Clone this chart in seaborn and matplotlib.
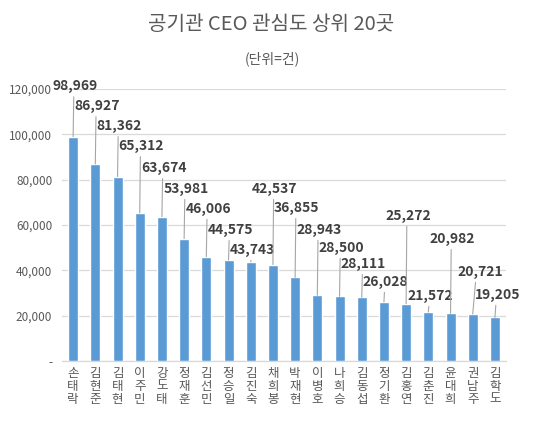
import numpy as np
import pandas as pd
import matplotlib
matplotlib.use("Agg")
import matplotlib.pyplot as plt
import seaborn as sns

# ==============================
# DATA
# ==============================
names = ["손태락", "김현준", "김태현", "이주민", "강도태", "정재훈", "김선민", "정승일", "김진숙", "채희봉",
         "박재현", "이병호", "나희승", "김동섭", "정기환", "김홍연", "김춘진", "윤대희", "권남주", "김학도"]
counts = [98969, 86927, 81362, 65312, 63674, 53981, 46006, 44575, 43743, 42537,
          36855, 28943, 28500, 28111, 26028, 25272, 21572, 20982, 20721, 19205]
title = "공기관 CEO 관심도 상위 20곳"
subtitle = "(단위=건)"
yticks = [0, 20000, 40000, 60000, 80000, 100000, 120000]

# label layout (height of each value label, sideways shift in bar slots)
label_y = [121100, 112300, 103500, 94700, 85000, 75800, 67000, 57700, 48900, 75800,
           67400, 57700, 49800, 42700, 34800, 63900, 28600, 53700, 39200, 29100]
label_dx = [0.08] * 20
label_dx[18] = 0.36
label_dx[19] = 0.13

# ==============================
# PLOT
# ==============================
sns.set_style("white")
plt.rcParams['font.family'] = ['Noto Sans CJK KR', 'DejaVu Sans']

df = pd.DataFrame({"name": names, "count": counts})

fig = plt.figure(figsize=(5.45, 4.32), dpi=100)
ax = fig.add_axes([0.1138, 0.1644, 0.8147, 0.6296])

sns.barplot(data=df, x="name", y="count", color="#5b9bd5", saturation=1,
            width=0.45, ax=ax, zorder=3)

ax.set_ylim(0, 120000)
ax.set_xlim(-0.5, len(names) - 0.5)
ax.set_yticks(yticks)
ax.set_yticklabels(["-" if v == 0 else f"{v:,}" for v in yticks])
ax.set_xticks(range(len(names)))
ax.set_xticklabels(["\n".join(n) for n in names], linespacing=1.0)
ax.tick_params(axis="y", length=0, labelsize=8.5, labelcolor="#595959", pad=7)
ax.tick_params(axis="x", length=0, labelsize=9, labelcolor="#595959", pad=4)
ax.set_xlabel("")
ax.set_ylabel("")

ax.grid(axis="y", color="#d9d9d9", lw=0.9, zorder=0)
for s in ["top", "right", "left"]:
    ax.spines[s].set_visible(False)
ax.spines["bottom"].set_color("#d9d9d9")
ax.spines["bottom"].set_linewidth(0.9)

# value labels with leader lines
for i, (v, ly, dx) in enumerate(zip(counts, label_y, label_dx)):
    ax.annotate(f"{v:,}", xy=(i, v), xytext=(i + dx, ly),
                ha="center", va="center", fontsize=10, fontweight="bold",
                color="#404040", annotation_clip=False, zorder=5,
                arrowprops=dict(arrowstyle="-", color="#a6a6a6", lw=0.8,
                                relpos=(0.5 - dx * 0.3, 0), shrinkA=0, shrinkB=0))

fig.text(0.497, 1 - 25 / 432, title, ha="center", va="center",
         fontsize=14.5, color="#595959")
fig.text(0.499, 1 - 59 / 432, subtitle, ha="center", va="center",
         fontsize=10, color="#595959")

plt.savefig("out.png", dpi=100)
